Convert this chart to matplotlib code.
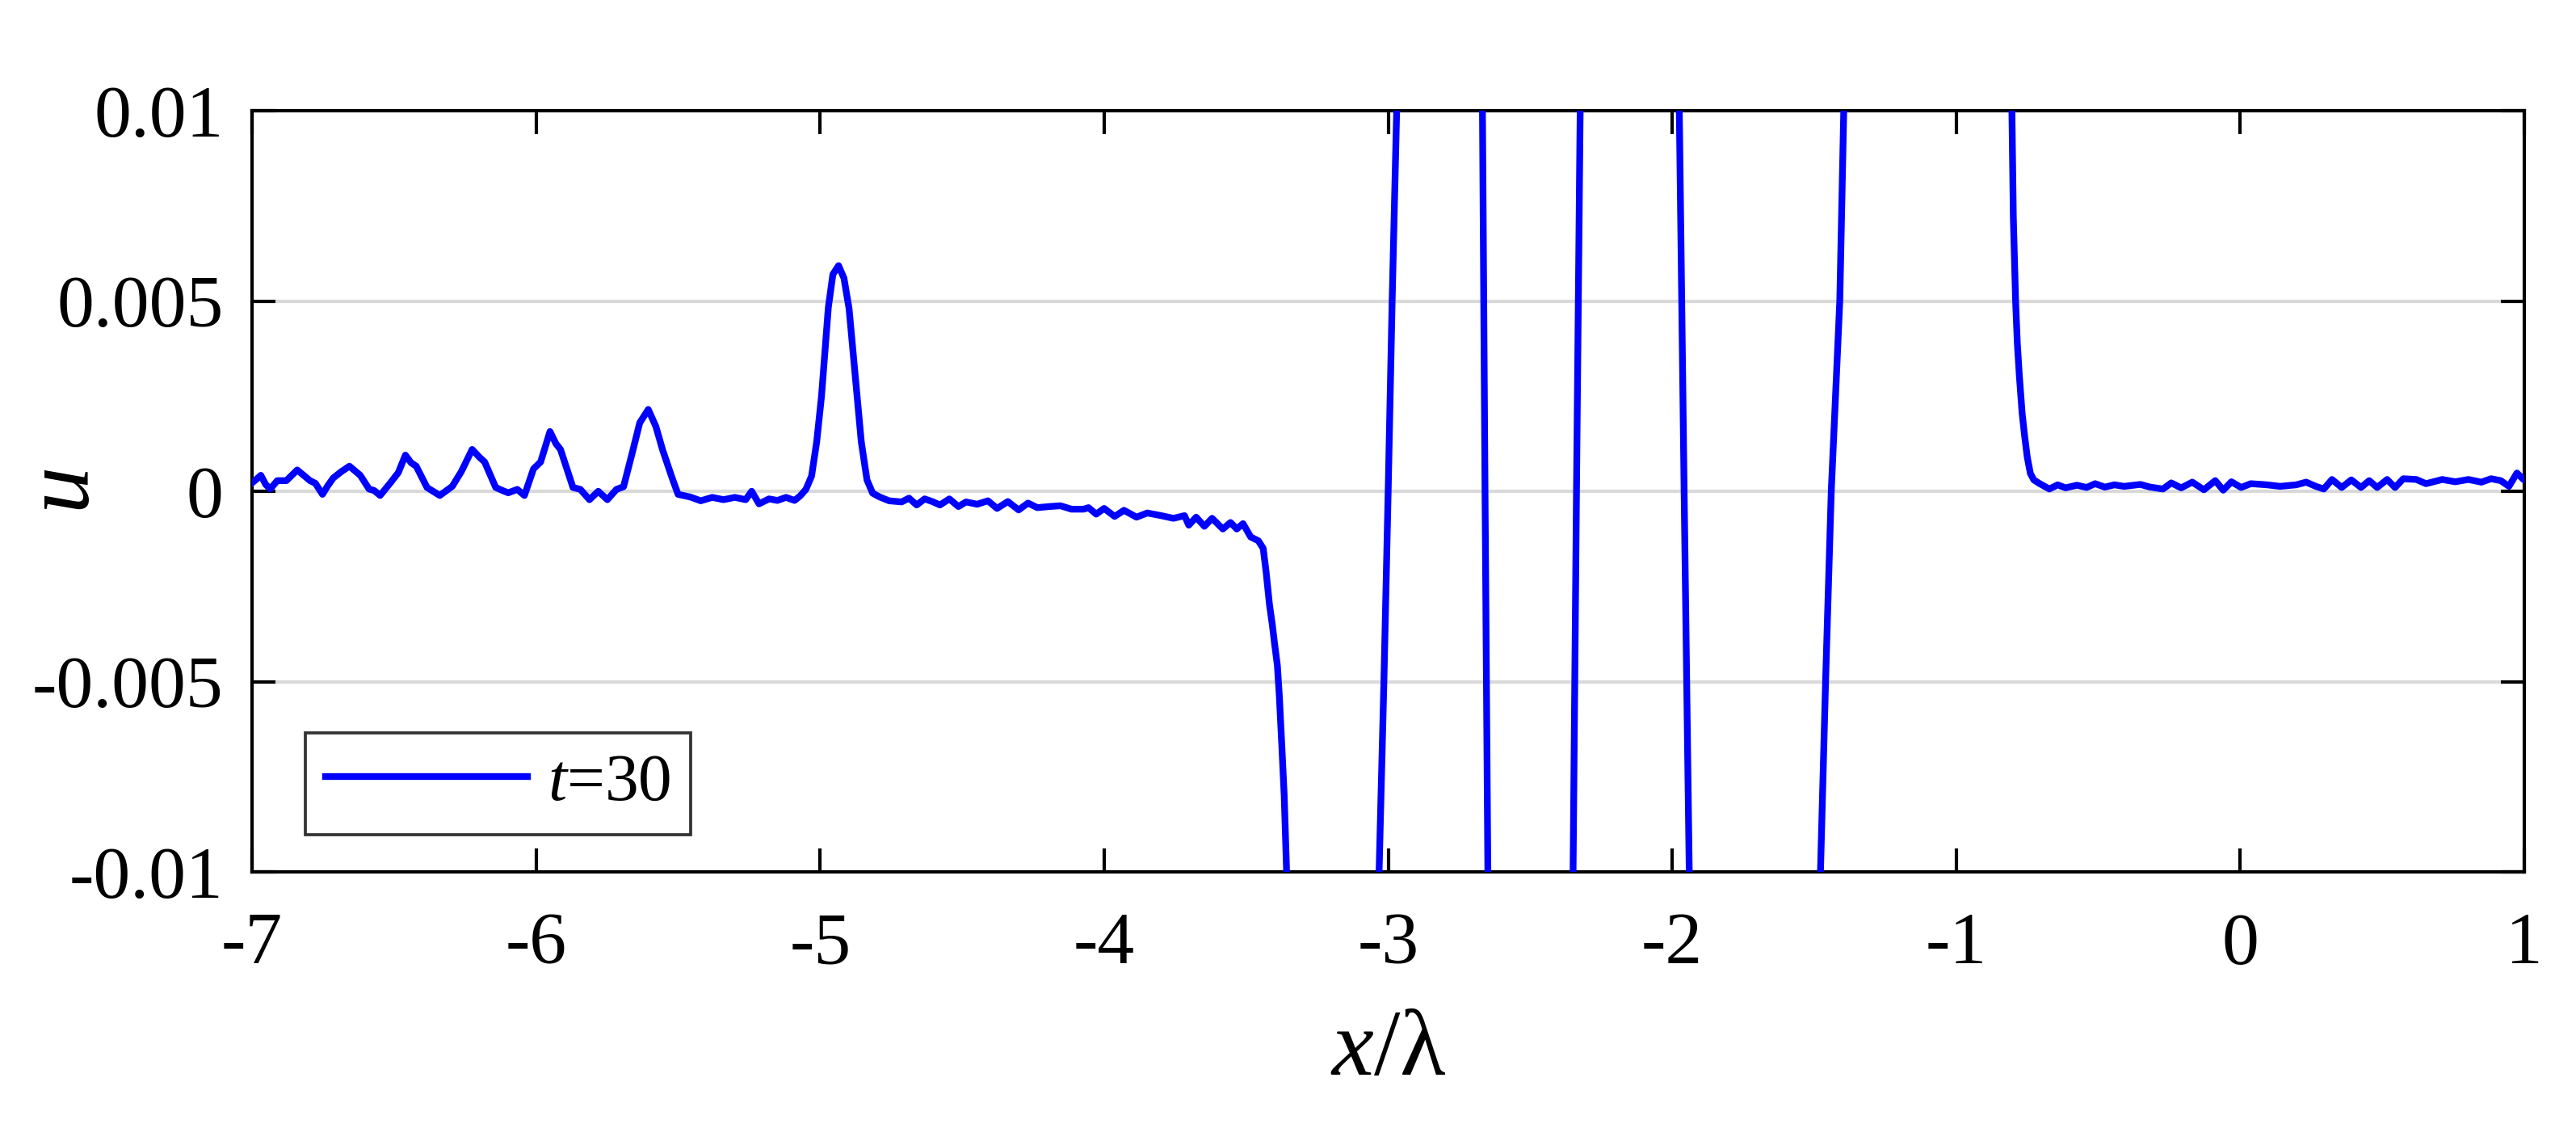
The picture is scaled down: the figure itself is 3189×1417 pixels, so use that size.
import matplotlib
matplotlib.use("Agg")
import matplotlib.pyplot as plt

plt.rcParams['font.family'] = ['Liberation Serif', 'DejaVu Serif']
plt.rcParams['mathtext.fontset'] = 'custom'
plt.rcParams['mathtext.rm'] = 'Liberation Serif'
plt.rcParams['mathtext.it'] = 'Liberation Serif:italic'
plt.rcParams['axes.unicode_minus'] = False

# ---------------- data ----------------
x_lambda = [
    -7.000, -6.987, -6.969, -6.952, -6.936, -6.911, -6.879, -6.841, -6.815, -6.796,
    -6.777, -6.752, -6.733, -6.714, -6.685, -6.657, -6.619, -6.588, -6.570, -6.549,
    -6.511, -6.485, -6.460, -6.440, -6.422, -6.384, -6.339, -6.295, -6.263, -6.225,
    -6.200, -6.181, -6.142, -6.118, -6.098, -6.066, -6.041, -6.009, -5.984, -5.951,
    -5.930, -5.914, -5.870, -5.844, -5.812, -5.781, -5.749, -5.717, -5.692, -5.661,
    -5.635, -5.605, -5.578, -5.555, -5.521, -5.500, -5.457, -5.420, -5.380, -5.340,
    -5.300, -5.262, -5.241, -5.215, -5.180, -5.150, -5.120, -5.090, -5.070, -5.050,
    -5.030, -5.012, -4.995, -4.971, -4.955, -4.935, -4.916, -4.898, -4.876, -4.855,
    -4.835, -4.815, -4.790, -4.757, -4.713, -4.687, -4.660, -4.632, -4.605, -4.578,
    -4.545, -4.513, -4.486, -4.447, -4.409, -4.377, -4.339, -4.301, -4.268, -4.235,
    -4.192, -4.154, -4.115, -4.072, -4.055, -4.028, -4.000, -3.963, -3.930, -3.886,
    -3.848, -3.799, -3.756, -3.717, -3.702, -3.676, -3.647, -3.620, -3.582, -3.555,
    -3.533, -3.511, -3.484, -3.457, -3.440, -3.430, -3.418, -3.408, -3.400, -3.390,
    -3.383, -3.375, -3.366, -3.358, -3.350, -3.200, -3.042, -3.032, -3.015, -3.000,
    -2.986, -2.970, -2.962, -2.820, -2.670, -2.668, -2.659, -2.649, -2.647, -2.500,
    -2.351, -2.349, -2.337, -2.324, -2.322, -2.150, -1.978, -1.975, -1.958, -1.940,
    -1.937, -1.720, -1.485, -1.478, -1.460, -1.440, -1.410, -1.396, -1.390, -1.100,
    -0.806, -0.804, -0.799, -0.791, -0.785, -0.778, -0.768, -0.759, -0.750, -0.739,
    -0.727, -0.706, -0.672, -0.643, -0.615, -0.575, -0.541, -0.511, -0.477, -0.443,
    -0.409, -0.352, -0.317, -0.272, -0.243, -0.208, -0.169, -0.128, -0.088, -0.060,
    -0.031, 0.003, 0.037, 0.094, 0.140, 0.197, 0.232, 0.266, 0.294, 0.323,
    0.357, 0.391, 0.425, 0.454, 0.482, 0.517, 0.545, 0.574, 0.620, 0.654,
    0.711, 0.757, 0.803, 0.849, 0.883, 0.917, 0.946, 0.974, 0.997, 1.000,
]
u_t30 = [
    0.00022, 0.00030, 0.00042, 0.00018, 0.00006, 0.00028, 0.00028, 0.00056, 0.00040, 0.00028,
    0.00021, -0.00008, 0.00015, 0.00035, 0.00052, 0.00066, 0.00042, 0.00006, 0.00002, -0.00011,
    0.00024, 0.00049, 0.00095, 0.00075, 0.00066, 0.00010, -0.00011, 0.00013, 0.00052, 0.00110,
    0.00090, 0.00077, 0.00010, 0.00002, -0.00004, 0.00005, -0.00011, 0.00059, 0.00077, 0.00157,
    0.00125, 0.00110, 0.00010, 0.00005, -0.00022, 0.00000, -0.00022, 0.00005, 0.00012, 0.00102,
    0.00180, 0.00215, 0.00170, 0.00110, 0.00035, -0.00008, -0.00015, -0.00025, -0.00016, -0.00022,
    -0.00016, -0.00022, 0.00000, -0.00033, -0.00020, -0.00024, -0.00016, -0.00024, -0.00012, 0.00005,
    0.00040, 0.00130, 0.00250, 0.00483, 0.00570, 0.00593, 0.00560, 0.00480, 0.00300, 0.00130,
    0.00030, -0.00005, -0.00015, -0.00025, -0.00028, -0.00018, -0.00036, -0.00020, -0.00027, -0.00036,
    -0.00020, -0.00040, -0.00028, -0.00034, -0.00025, -0.00045, -0.00027, -0.00049, -0.00031, -0.00043,
    -0.00040, -0.00038, -0.00047, -0.00047, -0.00043, -0.00060, -0.00045, -0.00066, -0.00050, -0.00068,
    -0.00057, -0.00064, -0.00071, -0.00064, -0.00089, -0.00068, -0.00092, -0.00071, -0.00099, -0.00082,
    -0.00099, -0.00085, -0.00120, -0.00130, -0.00150, -0.00210, -0.00297, -0.00350, -0.00400, -0.00458,
    -0.00540, -0.00660, -0.00800, -0.00990, -0.01250, -0.04000, -0.01250, -0.01000, -0.00500, 0.00000,
    0.00500, 0.01000, 0.01250, 0.06000, 0.01200, 0.01000, 0.00000, -0.01000, -0.01200, -0.06000,
    -0.01200, -0.01000, 0.00000, 0.01000, 0.01200, 0.06000, 0.01200, 0.01000, 0.00000, -0.01000,
    -0.01200, -0.05000, -0.01250, -0.01000, -0.00500, 0.00000, 0.00500, 0.01000, 0.01250, 0.04000,
    0.01200, 0.01000, 0.00720, 0.00500, 0.00390, 0.00306, 0.00205, 0.00144, 0.00090, 0.00047,
    0.00030, 0.00020, 0.00006, 0.00017, 0.00009, 0.00016, 0.00010, 0.00020, 0.00011, 0.00017,
    0.00013, 0.00018, 0.00011, 0.00006, 0.00022, 0.00009, 0.00024, 0.00004, 0.00028, 0.00003,
    0.00025, 0.00010, 0.00020, 0.00017, 0.00013, 0.00017, 0.00024, 0.00013, 0.00006, 0.00031,
    0.00010, 0.00030, 0.00010, 0.00028, 0.00010, 0.00031, 0.00010, 0.00033, 0.00031, 0.00020,
    0.00031, 0.00025, 0.00031, 0.00024, 0.00033, 0.00028, 0.00013, 0.00048, 0.00031, 0.00030,
]
series_label = '$t$=30'
x_ticks = [-7, -6, -5, -4, -3, -2, -1, 0, 1]
x_ticklabels = ['-7', '-6', '-5', '-4', '-3', '-2', '-1', '0', '1']
y_ticks = [-0.01, -0.005, 0, 0.005, 0.01]
y_ticklabels = ['-0.01', '-0.005', '0', '0.005', '0.01']

# ---------------- figure ----------------
fig = plt.figure(figsize=(3189 / 300, 1417 / 300), dpi=300)
ax = fig.add_axes([312 / 3189, 1 - 1079 / 1417, (3125 - 312) / 3189, (1079 - 137) / 1417])

ax.plot(x_lambda, u_t30, color='#0000ff', lw=2.0, label=series_label,
        solid_joinstyle='round', zorder=3)

ax.set_xlim(-7, 1)
ax.set_ylim(-0.01, 0.01)
ax.set_xticks(x_ticks)
ax.set_xticklabels(x_ticklabels)
ax.set_yticks(y_ticks)
ax.set_yticklabels(y_ticklabels)

ax.yaxis.grid(True, color='#d9d9d9', lw=1.0, zorder=0)
ax.set_axisbelow(True)

ax.tick_params(axis='both', direction='in', top=True, right=True,
               length=7, width=1.0, labelsize=22)
ax.tick_params(axis='x', pad=12)
ax.tick_params(axis='y', pad=8.5)
for sp in ax.spines.values():
    sp.set_linewidth(1.0)

ax.set_xlabel('$x$/λ', fontsize=28, labelpad=9)
ax.set_ylabel('$u$', fontsize=28)
ax.yaxis.set_label_coords(-0.063, 0.5)

leg = ax.legend(loc='lower left', bbox_to_anchor=(0.0235, 0.0488), borderaxespad=0,
                fontsize=20, frameon=True, fancybox=False, framealpha=1,
                edgecolor='#333333', handlelength=3.0, handletextpad=0.3,
                borderpad=0.3)
leg.get_frame().set_linewidth(0.9)

fig.savefig('out.png', dpi=300)
